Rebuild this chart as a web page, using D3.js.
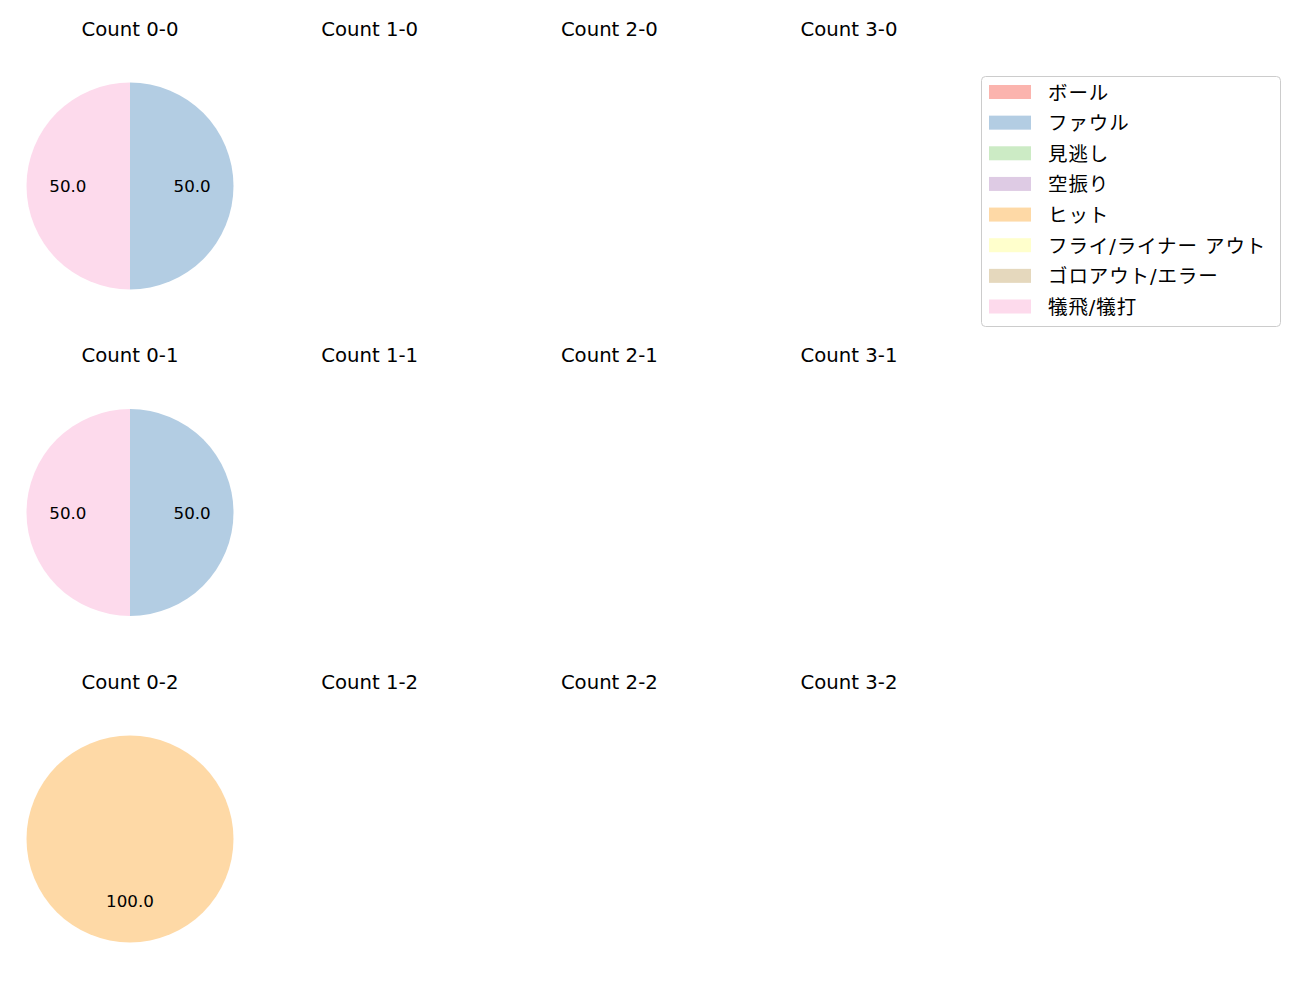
<!DOCTYPE html>
<html><head><meta charset="utf-8">
<script src="https://cdn.jsdelivr.net/npm/d3@7"></script>
<style>body{margin:0;background:#fff;} text{font-family:"DejaVu Sans","Noto Sans CJK JP",sans-serif;}</style>
</head><body>
<svg id="c" width="1300" height="1000"></svg>
<script>
const categories = ["ボール","ファウル","見逃し","空振り","ヒット","フライ/ライナー アウト","ゴロアウト/エラー","犠飛/犠打"];
const colors = ["#fbb4ae","#b3cde3","#ccebc5","#decbe4","#fed9a6","#ffffcc","#e5d8bd","#fddaec"];
const strikes = [0,1,2];
const balls = [0,1,2,3];
// values per count "balls-strikes"
const counts = {
  "0-0":[0,1,0,0,0,0,0,1],
  "1-0":[0,0,0,0,0,0,0,0],
  "2-0":[0,0,0,0,0,0,0,0],
  "3-0":[0,0,0,0,0,0,0,0],
  "0-1":[0,1,0,0,0,0,0,1],
  "1-1":[0,0,0,0,0,0,0,0],
  "2-1":[0,0,0,0,0,0,0,0],
  "3-1":[0,0,0,0,0,0,0,0],
  "0-2":[0,0,0,0,1,0,0,0],
  "1-2":[0,0,0,0,0,0,0,0],
  "2-2":[0,0,0,0,0,0,0,0],
  "3-2":[0,0,0,0,0,0,0,0]
};
const svg = d3.select("#c");
const colX = d3.scaleLinear().domain([0,3]).range([130,849]);
const rowY = d3.scaleLinear().domain([0,2]).range([186,839]);
const R = 103.5;
const pie = d3.pie().sort(null).value(d=>d.v);
const arc = d3.arc().innerRadius(0).outerRadius(R);
const labArc = d3.arc().innerRadius(R*0.6).outerRadius(R*0.6);
strikes.forEach(s=>{
  balls.forEach(b=>{
    const key = b+"-"+s;
    const cx = colX(b), cy = rowY(s);
    svg.append("text").attr("x",cx).attr("y",cy-157).attr("text-anchor","middle")
      .attr("dominant-baseline","central").attr("font-size",19.7).attr("fill","#000").text("Count "+key);
    const vals = counts[key].map((v,i)=>({v,i}));
    const total = d3.sum(vals,d=>d.v);
    if(total===0) return;
    const g = svg.append("g").attr("transform",`translate(${cx},${cy})`);
    const arcs = pie(vals).filter(d=>d.data.v>0);
    g.selectAll("path").data(arcs).enter().append("path")
      .attr("d",arc).attr("fill",d=>colors[d.data.i]);
    g.selectAll("text.l").data(arcs).enter().append("text")
      .attr("transform",d=>`translate(${labArc.centroid(d)})`)
      .attr("text-anchor","middle").attr("dominant-baseline","central")
      .attr("font-size",16.7).attr("fill","#000")
      .text(d=>(d.data.v/total*100).toFixed(1));
  });
});
// legend
const lg = svg.append("g");
lg.append("rect").attr("x",981.5).attr("y",76.5).attr("width",299).attr("height",250)
  .attr("rx",4).attr("fill","#fff").attr("stroke","#ccc").attr("stroke-width",1);
const ly = d3.scaleLinear().domain([0,7]).range([92,306.5]);
categories.forEach((c,i)=>{
  lg.append("rect").attr("x",989).attr("y",ly(i)-7).attr("width",42).attr("height",14).attr("fill",colors[i]);
  lg.append("text").attr("x",1048).attr("y",ly(i)+1).attr("dominant-baseline","central")
    .attr("font-size",19.5).attr("letter-spacing",0.9).attr("fill","#000").text(c);
});
</script>
</body></html>
